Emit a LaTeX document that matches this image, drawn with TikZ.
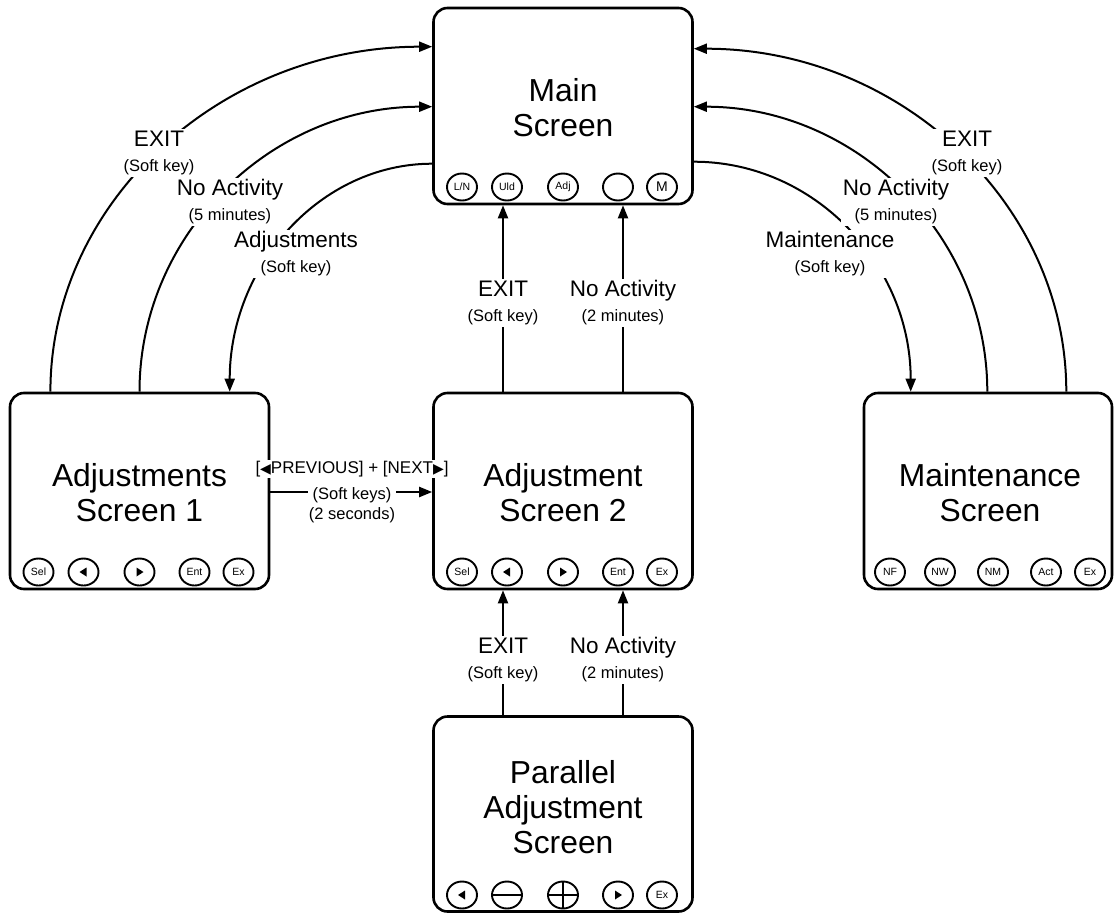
\documentclass[tikz,border=0pt]{standalone}
\usepackage{fontspec}
\setmainfont{Liberation Sans}
\newfontfamily\symfont{DejaVu Sans}
\usetikzlibrary{arrows.meta,shapes.geometric}
\begin{document}
\begin{tikzpicture}[x=1pt,y=-1pt,
  screen/.style={draw,line width=2.6pt,rounded corners=14pt,minimum width=259pt,minimum height=196pt,inner sep=0pt},
  title/.style={font=\fontsize{31.8}{35}\selectfont,align=center,inner sep=0pt},
  btn/.style={draw,ellipse,line width=1.9pt,minimum width=30pt,minimum height=27pt,inner sep=0pt,font=\fontsize{10.5}{11}\selectfont},
  lbtn/.style={btn,path picture={\fill ([xshift=-4pt]path picture bounding box.center) -- ([xshift=3pt,yshift=4.5pt]path picture bounding box.center) -- ([xshift=3pt,yshift=-4.5pt]path picture bounding box.center) -- cycle;}},
  rbtn/.style={btn,path picture={\fill ([xshift=4pt]path picture bounding box.center) -- ([xshift=-3pt,yshift=4.5pt]path picture bounding box.center) -- ([xshift=-3pt,yshift=-4.5pt]path picture bounding box.center) -- cycle;}},
  minusbtn/.style={btn,path picture={\draw[line width=1.6pt] ([xshift=-16pt]path picture bounding box.center) -- ([xshift=16pt]path picture bounding box.center);}},
  plusbtn/.style={btn,path picture={\draw[line width=1.6pt] ([xshift=-16pt]path picture bounding box.center) -- ([xshift=16pt]path picture bounding box.center) ([yshift=-16pt]path picture bounding box.center) -- ([yshift=16pt]path picture bounding box.center);}},
  conn/.style={line width=2pt},
  arr/.style={conn,-{Triangle[length=13pt,width=10pt]}},
  lbl/.style={fill=white,align=center,inner sep=2pt,font=\fontsize{22.5}{24}\selectfont},
  small/.style={fill=white,align=center,inner sep=1pt,font=\fontsize{16.5}{20}\selectfont},
]
\useasboundingbox (0,0) rectangle (1114,913);

% screens
\node[screen] (main) at (563,106) {};
\node[title] (mainT) at (563,107.5) {Main\\Screen};
\node[screen] (adj1) at (139.5,491) {};
\node[title] (adj1T) at (139.5,492.5) {Adjustments\\Screen 1};
\node[screen] (adj2) at (563,491) {};
\node[title] (adj2T) at (563,492.5) {Adjustment\\Screen 2};
\node[screen,minimum width=248pt] (maint) at (988,491) {};
\node[title] (maintT) at (990,492.5) {Maintenance\\Screen};
\node[screen,minimum height=195pt] (par) at (563,814) {};
\node[title] (parT) at (563,807) {Parallel\\Adjustment\\Screen};

% buttons
\node[btn] (mb1) at ([xshift=-101pt,yshift=-81pt]main.center) {L/N};
\node[btn] (mb2) at ([xshift=-56pt,yshift=-81pt]main.center) {Uld};
\node[btn] (mb3) at ([xshift=0pt,yshift=-81pt]main.center) {Adj};
\node[btn] (mb4) at ([xshift=55pt,yshift=-81pt]main.center) {};
\node[btn,font=\fontsize{14}{14}\selectfont] (mb5) at ([xshift=99pt,yshift=-81pt]main.center) {M};

\node[btn] (ab1) at ([xshift=-101pt,yshift=-81pt]adj1.center) {Sel};
\node[lbtn] (ab2) at ([xshift=-56pt,yshift=-81pt]adj1.center) {};
\node[rbtn] (ab3) at ([xshift=0pt,yshift=-81pt]adj1.center) {};
\node[btn] (ab4) at ([xshift=55pt,yshift=-81pt]adj1.center) {Ent};
\node[btn] (ab5) at ([xshift=99pt,yshift=-81pt]adj1.center) {Ex};

\node[btn] (bb1) at ([xshift=-101pt,yshift=-81pt]adj2.center) {Sel};
\node[lbtn] (bb2) at ([xshift=-56pt,yshift=-81pt]adj2.center) {};
\node[rbtn] (bb3) at ([xshift=0pt,yshift=-81pt]adj2.center) {};
\node[btn] (bb4) at ([xshift=55pt,yshift=-81pt]adj2.center) {Ent};
\node[btn] (bb5) at ([xshift=99pt,yshift=-81pt]adj2.center) {Ex};

\node[btn] (nb1) at ([xshift=-98pt,yshift=-81pt]maint.center) {NF};
\node[btn] (nb2) at ([xshift=-48pt,yshift=-81pt]maint.center) {NW};
\node[btn] (nb3) at ([xshift=5pt,yshift=-81pt]maint.center) {NM};
\node[btn] (nb4) at ([xshift=58pt,yshift=-81pt]maint.center) {Act};
\node[btn] (nb5) at ([xshift=102pt,yshift=-81pt]maint.center) {Ex};

\node[lbtn] (pb1) at ([xshift=-101pt,yshift=-81pt]par.center) {};
\node[minusbtn] (pb2) at ([xshift=-56pt,yshift=-81pt]par.center) {};
\node[plusbtn] (pb3) at ([xshift=0pt,yshift=-81pt]par.center) {};
\node[rbtn] (pb4) at ([xshift=55pt,yshift=-81pt]par.center) {};
\node[btn] (pb5) at ([xshift=99pt,yshift=-81pt]par.center) {Ex};

% curved connectors, left
\draw[arr] ([xshift=41.7pt]adj1.north west) .. controls +(0,-190) and +(-211,0) .. ([yshift=-40pt]main.north west);
\draw[arr] (adj1.north) .. controls +(0,-157) and +(-162,0) .. ([yshift=-100pt]main.north west);
\draw[arr] ([yshift=-157pt]main.north west) .. controls +(-112,0) and +(0,-126) .. ([xshift=221pt]adj1.north west);
% curved connectors, right
\draw[arr] ([xshift=-47pt]maint.north east) .. controls +(0,-189) and +(205,0) .. ([yshift=-42pt]main.north east);
\draw[arr] ([xshift=-126pt]maint.north east) .. controls +(0,-157) and +(162,0) .. ([yshift=-100pt]main.north east);
\draw[arr] ([yshift=-155pt]main.north east) .. controls +(121,0) and +(0,-127) .. ([xshift=48pt]maint.north west);
% straight connectors
\draw[arr] ([xshift=-60pt]adj2.north) -- ([xshift=-60pt]main.south);
\draw[arr] ([xshift=60pt]adj2.north) -- ([xshift=60pt]main.south);
\draw[arr] ([xshift=-60pt]par.north) -- ([xshift=-60pt]adj2.south);
\draw[arr] ([xshift=60pt]par.north) -- ([xshift=60pt]adj2.south);
\draw[arr] ([yshift=-1pt]adj1.east) -- ([yshift=-1pt]adj2.west);

% labels
\node[lbl] (lExit) at (159,153) {EXIT\\[1pt]\fontsize{16.5}{22}\selectfont (Soft key)};
\node[lbl] (lNoAct) at (230,202) {No Activity\\[1pt]\fontsize{16.5}{22}\selectfont (5 minutes)};
\node[lbl] (lAdj) at (296,254) {Adjustments\\[1pt]\fontsize{16.5}{22}\selectfont (Soft key)};
\node[lbl] (rExit) at (967,153) {EXIT\\[1pt]\fontsize{16.5}{22}\selectfont (Soft key)};
\node[lbl] (rNoAct) at (896,202) {No Activity\\[1pt]\fontsize{16.5}{22}\selectfont (5 minutes)};
\node[lbl] (rMaint) at (830,254) {Maintenance\\[1pt]\fontsize{16.5}{22}\selectfont (Soft key)};
\node[lbl] (mExit) at (503,303) {EXIT\\[1pt]\fontsize{16.5}{22}\selectfont (Soft key)};
\node[lbl] (mNoAct) at (623,303) {No Activity\\[1pt]\fontsize{16.5}{22}\selectfont (2 minutes)};
\node[lbl] (bExit) at (503,660) {EXIT\\[1pt]\fontsize{16.5}{22}\selectfont (Soft key)};
\node[lbl] (bNoAct) at (623,660) {No Activity\\[1pt]\fontsize{16.5}{22}\selectfont (2 minutes)};
\node[fill=white,inner sep=1pt,font=\fontsize{17}{20}\selectfont] (prevnext) at (352,469) {[{\symfont\fontsize{14}{14}\selectfont ◀}PREVIOUS] + [NEXT{\symfont\fontsize{14}{14}\selectfont ▶}]};
\node[small] (softkeys) at (352,505) {(Soft keys)\\(2 seconds)};
\end{tikzpicture}
\end{document}
